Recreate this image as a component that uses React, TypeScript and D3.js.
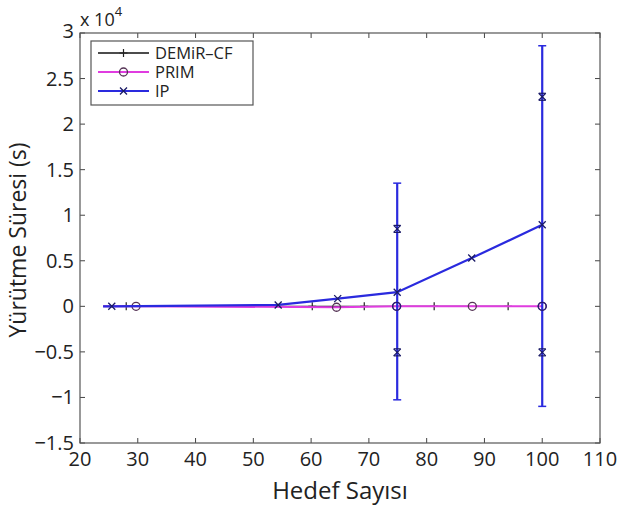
import { useEffect, useRef } from 'react';
import * as d3 from 'd3';

// values (y in seconds)
const lineStart = 24;
const demirX = [28, 60.2, 69.2, 81.3, 94.1];
const demirY = [0, 0, 0, 0, 0];
const primX = [29.7, 64.4, 74.8, 87.9, 100];
const primY = [0, -100, 0, 0, 0];
const ipX = [25.5, 54.3, 64.6, 74.9, 87.8, 100];
const ipY = [0, 150, 850, 1550, 5300, 8950];
const ipErrX = [74.9, 100];
const ipErrLow = [-10260, -10980];
const ipErrHigh = [13520, 28600];
const ipInnerLow = [-5050, -5050];
const ipInnerHigh = [8500, 23000];
const xTicks = [20, 30, 40, 50, 60, 70, 80, 90, 100, 110];
const yTicks = [-1.5, -1, -0.5, 0, 0.5, 1, 1.5, 2, 2.5, 3];

const FONT = "'Open Sans', 'Noto Sans', sans-serif";
const PINK = '#e03ce0';
const BLUE = '#2a2ade';

function App() {
    const svgRef = useRef<SVGSVGElement>(null);

    useEffect(() => {
        if (!svgRef.current) return;
        const svg = d3.select(svgRef.current);
        svg.selectAll('*').remove();

        const left = 80, right = 600, top = 33, bottom = 443;
        const x = d3.scaleLinear().domain([20, 110]).range([left, right]);
        const y = d3.scaleLinear().domain([-15000, 30000]).range([bottom, top]);
        const fmt = (v: number) => (v < 0 ? '\u2212' + Math.abs(v) : String(v));

        // ticks, all four sides, inward
        const g = svg.append('g').attr('stroke', '#444').attr('stroke-width', 1);
        xTicks.forEach(t => {
            g.append('line').attr('x1', x(t)).attr('x2', x(t)).attr('y1', bottom).attr('y2', bottom - 5);
            g.append('line').attr('x1', x(t)).attr('x2', x(t)).attr('y1', top).attr('y2', top + 5);
        });
        yTicks.forEach(t => {
            g.append('line').attr('x1', left).attr('x2', left + 5).attr('y1', y(t * 1e4)).attr('y2', y(t * 1e4));
            g.append('line').attr('x1', right).attr('x2', right - 5).attr('y1', y(t * 1e4)).attr('y2', y(t * 1e4));
        });

        xTicks.forEach(t => {
            svg.append('text').attr('x', x(t)).attr('y', 466).attr('text-anchor', 'middle')
                .attr('font-family', FONT).attr('font-size', 20).attr('fill', '#222').text(fmt(t));
        });
        yTicks.forEach((t, i) => {
            svg.append('text').attr('x', 74).attr('y', y(t * 1e4) + 7 - (i === yTicks.length - 1 ? 2 : 0))
                .attr('text-anchor', 'end')
                .attr('font-family', FONT).attr('font-size', 20).attr('fill', '#222').text(fmt(t));
        });

        // exponent
        const ex = svg.append('text').attr('x', 80).attr('y', 26).attr('font-family', FONT)
            .attr('font-size', 18).attr('fill', '#222');
        ex.append('tspan').text('x 10');
        ex.append('tspan').attr('dy', -10).attr('font-size', 13).text('4');

        svg.append('text').attr('x', 340).attr('y', 499).attr('text-anchor', 'middle')
            .attr('font-family', FONT).attr('font-size', 24).attr('fill', '#222').text('Hedef Sayısı');
        svg.append('text').attr('transform', `translate(26, 240) rotate(-90)`).attr('text-anchor', 'middle')
            .attr('font-family', FONT).attr('font-size', 23).attr('fill', '#222').text('Yürütme Süresi (s)');

        const line = d3.line<[number, number]>().x(d => x(d[0])).y(d => y(d[1]));
        const pts = (xs: number[], ys: number[]) => [[lineStart, 0] as [number, number]]
            .concat(xs.map((v, i) => [v, ys[i]] as [number, number]));

        const plus = (sel: any, cx: number, cy: number, c: string) => {
            sel.append('path').attr('d', `M${cx - 4},${cy}H${cx + 4}M${cx},${cy - 4}V${cy + 4}`)
                .attr('stroke', c).attr('stroke-width', 1.2).attr('fill', 'none');
        };
        const circ = (sel: any, cx: number, cy: number, c: string) => {
            sel.append('circle').attr('cx', cx).attr('cy', cy).attr('r', 4)
                .attr('stroke', c).attr('stroke-width', 1.3).attr('fill', 'none');
        };
        const cross = (sel: any, cx: number, cy: number, c: string) => {
            sel.append('path').attr('d', `M${cx - 3.5},${cy - 3.5}L${cx + 3.5},${cy + 3.5}M${cx - 3.5},${cy + 3.5}L${cx + 3.5},${cy - 3.5}`)
                .attr('stroke', c).attr('stroke-width', 1.3).attr('fill', 'none');
        };

        const plot = svg.append('g');
        plot.append('path').attr('d', line(pts(demirX, demirY))).attr('stroke', '#111').attr('stroke-width', 1.3).attr('fill', 'none');
        demirX.forEach((v, i) => plus(plot, x(v), y(demirY[i]), '#222'));
        plot.append('path').attr('d', line(pts(primX, primY))).attr('stroke', PINK).attr('stroke-width', 2).attr('fill', 'none');
        primX.forEach((v, i) => circ(plot, x(v), y(primY[i]), '#553355'));
        plot.append('path').attr('d', line(pts(ipX, ipY))).attr('stroke', BLUE).attr('stroke-width', 2.2).attr('fill', 'none');

        ipErrX.forEach((v, i) => {
            const cx = x(v);
            plot.append('line').attr('x1', cx).attr('x2', cx).attr('y1', y(ipErrLow[i])).attr('y2', y(ipErrHigh[i]))
                .attr('stroke', BLUE).attr('stroke-width', 2.2);
            [ipErrLow[i], ipErrHigh[i]].forEach(e => {
                plot.append('line').attr('x1', cx - 4).attr('x2', cx + 4).attr('y1', y(e)).attr('y2', y(e))
                    .attr('stroke', BLUE).attr('stroke-width', 1.5);
            });
            [ipInnerLow[i], ipInnerHigh[i]].forEach(e => {
                plot.append('line').attr('x1', cx - 3.5).attr('x2', cx + 3.5).attr('y1', y(e) - 3.5).attr('y2', y(e) - 3.5)
                    .attr('stroke', '#1a1a66').attr('stroke-width', 1.2);
                plot.append('line').attr('x1', cx - 3.5).attr('x2', cx + 3.5).attr('y1', y(e) + 3.5).attr('y2', y(e) + 3.5)
                    .attr('stroke', '#1a1a66').attr('stroke-width', 1.2);
                cross(plot, cx, y(e), '#1a1a66');
            });
        });
        ipX.forEach((v, i) => cross(plot, x(v), y(ipY[i]), '#1a1a66'));
        // PRIM circles overlapped by IP bars
        primX.forEach((v, i) => { if (ipErrX.some(e => Math.abs(e - v) < 0.5)) circ(plot, x(v), y(primY[i]), '#2a1a77'); });

        // frame
        svg.append('rect').attr('x', left).attr('y', top).attr('width', right - left).attr('height', bottom - top)
            .attr('fill', 'none').attr('stroke', '#555').attr('stroke-width', 1.2);

        // legend
        const lg = svg.append('g');
        lg.append('rect').attr('x', 91).attr('y', 41).attr('width', 162).attr('height', 64)
            .attr('fill', '#fff').attr('stroke', '#555').attr('stroke-width', 1.2);
        const items = [
            { name: 'DEMiR\u2013CF', color: '#111', mk: plus, mc: '#222' },
            { name: 'PRIM', color: PINK, mk: circ, mc: '#553355' },
            { name: 'IP', color: BLUE, mk: cross, mc: '#1a1a66' },
        ];
        items.forEach((it, i) => {
            const yy = 53 + i * 19;
            lg.append('line').attr('x1', 98).attr('x2', 149).attr('y1', yy).attr('y2', yy)
                .attr('stroke', it.color).attr('stroke-width', it.color === '#111' ? 1.3 : 2);
            it.mk(lg, 123.5, yy, it.mc);
            lg.append('text').attr('x', 155).attr('y', yy + 6).attr('font-family', FONT)
                .attr('font-size', 16.5).attr('fill', '#222').text(it.name);
        });
    }, []);

    return <svg ref={svgRef} width={621} height={507}
        style={{ position: 'absolute', left: 0, top: 0, background: '#fff' }}></svg>;
}

export default App;
